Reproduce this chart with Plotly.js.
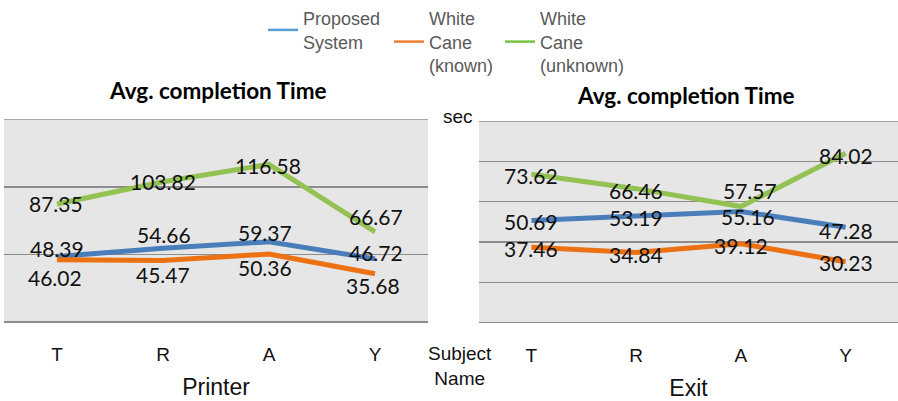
<!DOCTYPE html>
<html>
<head>
<meta charset="utf-8">
<script src="https://cdn.plot.ly/plotly-3.0.1.min.js"></script>
<style>html,body{margin:0;padding:0;background:#fff;}#chart{width:898px;height:401px;}</style>
</head>
<body>
<div id="chart"></div>
<script>
// ---- data ----
const subjects = ["T", "R", "A", "Y"];
const seriesNames = ["Proposed<br>System", "White<br>Cane<br>(known)", "White<br>Cane<br>(unknown)"];
const printerProposed = [48.39, 54.66, 59.37, 46.72];
const printerKnown = [46.02, 45.47, 50.36, 35.68];
const printerUnknown = [87.35, 103.82, 116.58, 66.67];
const exitProposed = [50.69, 53.19, 55.16, 47.28];
const exitKnown = [37.46, 34.84, 39.12, 30.23];
const exitUnknown = [73.62, 66.46, 57.57, 84.02];
const printerTicks = [0, 50, 100, 150];
const exitTicks = [0, 20, 40, 60, 80, 100];
const panelTitles = ["Avg. completion Time", "Avg. completion Time"];
const axisTitles = ["Printer", "Exit"];

// ---- styles ----
const W = 898, H = 401;
const lineColors = ["#4a7ebb", "#ec7113", "#93c152"];
const legendColors = ["#5b9bd5", "#ed7d31", "#7cc242"];
const gridColor = "#8c8c8c";
const legendX = [263, 389, 500];
const legendNames = ["legend", "legend2", "legend3"];
const labelFont = {family: "Lato, 'Liberation Sans', sans-serif", size: 21, color: "#111"};
// label offsets (px) per point: [panel][series][point]
const yShifts = [
  [[8, 14, 9, 6], [-18, -14, -14, -12], [0, 0, -1, 15]],
  [[-1, -2, -5, -3], [-1, -2, -2, -1], [-1, -2, 16, -2]]
];
const xShifts = [
  [[0, 1, -4, 1], [-2, 0, -4, -2], [-1, 0, -1, 1]],
  [[0, 0, 7, 0], [0, 0, 0, 0], [0, 0, 9, 0]]
];

const panels = [
  {xa: "x", ya: "y", series: [printerProposed, printerKnown, printerUnknown], ticks: printerTicks},
  {xa: "x2", ya: "y2", series: [exitProposed, exitKnown, exitUnknown], ticks: exitTicks}
];

const traces = [];
const annotations = [];
const shapes = [];
panels.forEach((p, pi) => {
  p.series.forEach((vals, si) => {
    traces.push({
      type: "scatter", mode: "lines", x: subjects, y: vals,
      xaxis: p.xa, yaxis: p.ya, showlegend: false, hoverinfo: "skip",
      line: {color: lineColors[si], width: 5}
    });
    vals.forEach((v, k) => {
      annotations.push({
        x: subjects[k], y: v, xref: p.xa, yref: p.ya, text: v.toFixed(2),
        showarrow: false, font: labelFont,
        xshift: xShifts[pi][si][k], yshift: yShifts[pi][si][k]
      });
    });
  });
  // top gridline (Plotly skips gridlines at the range edge)
  const top = p.ticks[p.ticks.length - 1];
  shapes.push({type: "line", xref: p.xa + " domain", yref: p.ya, x0: 0, x1: 1, y0: top, y1: top,
    line: {color: gridColor, width: 1.3}, layer: "below"});
});
// legend-only entries (one legend per entry for precise placement)
seriesNames.forEach((n, si) => {
  traces.push({
    type: "scatter", mode: "lines", x: [null], y: [null], name: n,
    xaxis: "x", yaxis: "y", legend: legendNames[si],
    line: {color: legendColors[si], width: 2.5}
  });
});

const titleFont = {family: "Lato, 'Open Sans', sans-serif", size: 22.5, color: "#000"};
const sideFont = {family: "'Liberation Sans', Arial, sans-serif", size: 19, color: "#111"};
const pixAnn = [
  {x: 218, y: 91, text: "<b>" + panelTitles[0] + "</b>", font: titleFont},
  {x: 686, y: 95, text: "<b>" + panelTitles[1] + "</b>", font: titleFont},
  {x: 458, y: 117, text: "sec", font: sideFont},
  {x: 460, y: 366, text: "Subject<br>Name", font: sideFont}
];
pixAnn.forEach(a => {
  annotations.push({x: a.x / W, y: 1 - a.y / H, xref: "paper", yref: "paper",
    xanchor: "center", yanchor: "middle", text: a.text, showarrow: false, font: a.font});
});

const axisTitleFont = {family: "'Liberation Sans', Arial, sans-serif", size: 23, color: "#111"};
const xAxisBase = {
  type: "category", range: [-0.5, 3.5], showgrid: false, zeroline: false, showline: false,
  ticks: "outside", ticklen: 15, tickcolor: "rgba(0,0,0,0)",
  tickfont: {family: "'Liberation Sans', Arial, sans-serif", size: 19, color: "#111"},
  automargin: false
};
const yAxisBase = {
  showticklabels: false, showgrid: true, gridcolor: gridColor, gridwidth: 1.3,
  zeroline: true, zerolinecolor: gridColor, zerolinewidth: 1.3, showline: false,
  ticks: "", automargin: false
};

const legendBase = {
  orientation: "v", y: 1, xanchor: "left", yanchor: "top",
  font: {family: "'Liberation Sans', Arial, sans-serif", size: 18, color: "#595959"},
  bgcolor: "rgba(0,0,0,0)", itemclick: false, borderwidth: 0
};

const layout = {
  width: W, height: H,
  margin: {l: 0, r: 0, t: 0, b: 0},
  paper_bgcolor: "#ffffff", plot_bgcolor: "#e6e6e6",
  showlegend: true,
  legend: Object.assign({}, legendBase, {x: legendX[0] / W}),
  legend2: Object.assign({}, legendBase, {x: legendX[1] / W}),
  legend3: Object.assign({}, legendBase, {x: legendX[2] / W}),
  xaxis: Object.assign({}, xAxisBase, {domain: [4 / W, 428 / W], anchor: "y",
    title: {text: axisTitles[0], font: axisTitleFont, standoff: 15}}),
  xaxis2: Object.assign({}, xAxisBase, {domain: [479 / W, 1], anchor: "y2",
    title: {text: axisTitles[1], font: axisTitleFont, standoff: 15}}),
  yaxis: Object.assign({}, yAxisBase, {range: [0, 150], tickvals: printerTicks, anchor: "x",
    domain: [(H - 322) / H, (H - 119.3) / H]}),
  yaxis2: Object.assign({}, yAxisBase, {range: [0, 100], tickvals: exitTicks, anchor: "x2",
    domain: [(H - 322.7) / H, (H - 121) / H]}),
  shapes: shapes,
  annotations: annotations
};

Plotly.newPlot("chart", traces, layout, {displayModeBar: false, staticPlot: true});
</script>
</body>
</html>
